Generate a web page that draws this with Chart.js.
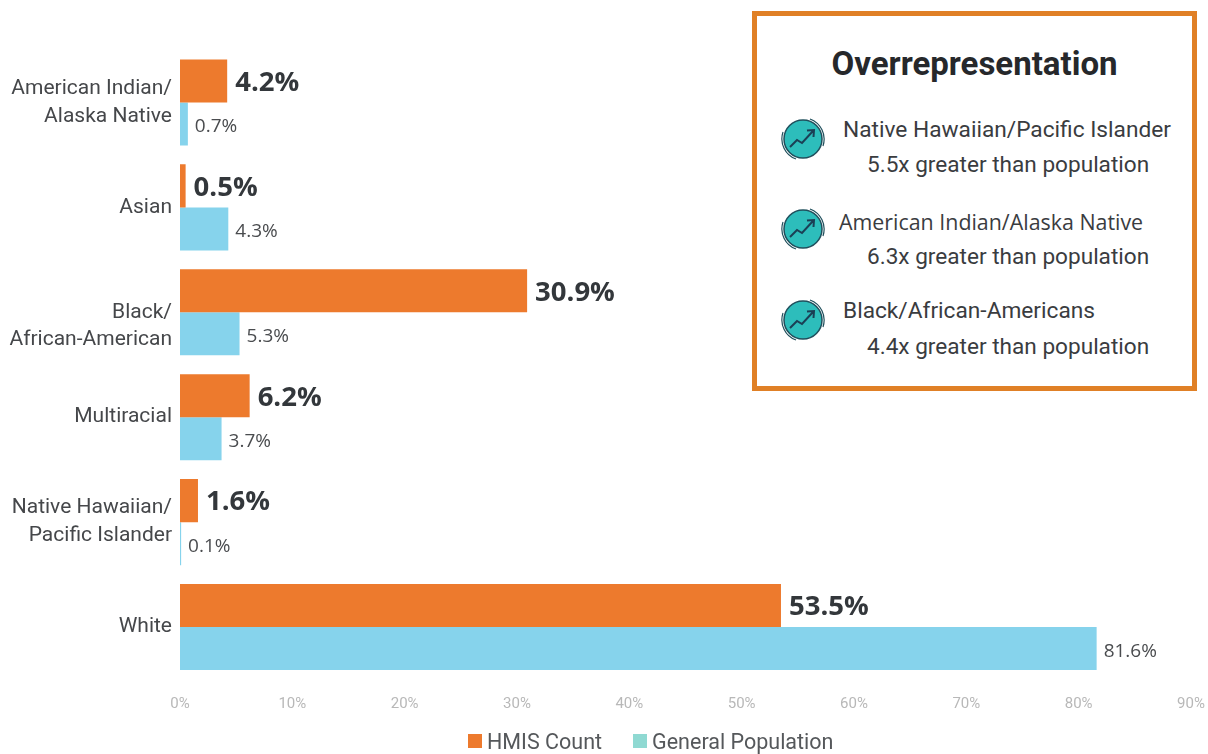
<!DOCTYPE html>
<html>
<head>
<meta charset="utf-8">
<title>Overrepresentation</title>
<script src="https://cdn.jsdelivr.net/npm/chart.js@4/dist/chart.umd.min.js"></script>
<style>
    html, body { margin: 0; padding: 0; background: #fff; }
    #wrap { position: relative; width: 1208px; height: 754px; overflow: hidden; }
    canvas { position: absolute; left: 0; top: 0; }
    #panel { position: absolute; left: 752px; top: 11px; width: 435px; height: 370px; border: 5px solid #e08026; background: #fff; }
    #panel h2 { position: absolute; left: 0; top: 28px; width: 100%; margin: 0; padding-left: 0; box-sizing: border-box; text-align: center; font: 700 33px Roboto, sans-serif; color: #26282b; }
    #panel .line { position: absolute; white-space: nowrap; font: 400 22.7px Roboto, sans-serif; color: #3a3c3f; }
    #panel .detail { font-size: 22.6px; }
    #panel .open { font: 400 21.4px "Open Sans", sans-serif; }
    #panel svg { position: absolute; left: 23px; width: 46px; height: 46px; }
    #legend { position: absolute; left: 468px; top: 727px; white-space: nowrap; font: 400 21.5px Roboto, sans-serif; color: #55585b; }
    #legend span { display: inline-block; vertical-align: middle; }
    #legend .box { width: 14px; height: 14px; margin-right: 5px; }
    #legend .name { margin-right: 31px; }
</style>
</head>
<body>
<div id="wrap">
    <canvas id="myChart" width="1208" height="754" role="img" aria-label="chart"></canvas>
    <div id="panel">
        <h2>Overrepresentation</h2>
        <svg style="top:100px" viewBox="0 0 46 46"><use href="#trend"/></svg>
        <div class="line" style="left:86px;top:100px">Native Hawaiian/Pacific Islander</div>
        <div class="line detail" style="left:110px;top:135px">5.5x greater than population</div>
        <svg style="top:190px" viewBox="0 0 46 46"><use href="#trend"/></svg>
        <div class="line open" style="left:82px;top:191px">American Indian/Alaska Native</div>
        <div class="line detail" style="left:110px;top:227px">6.3x greater than population</div>
        <svg style="top:281px" viewBox="0 0 46 46"><use href="#trend"/></svg>
        <div class="line" style="left:86px;top:281px">Black/African-Americans</div>
        <div class="line detail" style="left:110px;top:317px">4.4x greater than population</div>
    </div>
    <div id="legend"></div>
    <svg width="0" height="0" style="position:absolute">
        <symbol id="trend" viewBox="0 0 46 46">
            <circle cx="23" cy="23" r="19" fill="#2dbdbb" stroke="#1f4f5c" stroke-width="1.500"/>
            <path d="M30 3A21.500 21.500 0 0 1 43 30M16 43A21.500 21.500 0 0 1 3 16" fill="none" stroke="#1f4f5c" stroke-width="1.200"/>
            <path d="M10 31L17 24L22 27L33 15M27 14.500L34 14L33.500 21" fill="none" stroke="#1b3f55" stroke-width="2"/>
        </symbol>
    </svg>
</div>
<script>
// the empty first line pushes the Black label down, it sits low in the reference
const categories = [
    ['American Indian/', 'Alaska Native'],
    'Asian',
    ['', 'Black/', 'African-American'],
    'Multiracial',
    ['Native Hawaiian/', 'Pacific Islander'],
    'White'
];
const hmisCount = [4.2, 0.5, 30.9, 6.2, 1.6, 53.5];
const generalPopulation = [0.7, 4.3, 5.3, 3.7, 0.1, 81.6];
const seriesNames = ['HMIS Count', 'General Population'];
const hmisColor = '#ed7a2d';
const populationColor = '#86d3ec';
const legendColors = ['#ed7a2d', '#8fd9d2'];

// legend is plain html, it sits off-centre in the reference
const legend = document.getElementById('legend');
seriesNames.forEach((name, i) => {
    const box = document.createElement('span');
    box.className = 'box';
    box.style.background = legendColors[i];
    const text = document.createElement('span');
    text.className = 'name';
    text.textContent = name;
    legend.appendChild(box);
    legend.appendChild(text);
});

// value labels at the end of each bar, bigger and bold for the HMIS series
const barValueLabels = {
    id: 'barValueLabels',
    afterDatasetsDraw(chart) {
        const ctx = chart.ctx;
        ctx.save();
        ctx.textBaseline = 'middle';
        ctx.textAlign = 'left';
        chart.data.datasets.forEach((dataset, d) => {
            chart.getDatasetMeta(d).data.forEach((bar, i) => {
                if (d === 0) {
                    ctx.font = '700 27.5px "Open Sans"';
                    ctx.fillStyle = '#33373b';
                    ctx.fillText(dataset.data[i] + '%', bar.x + 8, bar.y + 2);
                } else {
                    ctx.font = '400 19px "Open Sans"';
                    ctx.fillStyle = '#4a4c4f';
                    ctx.fillText(dataset.data[i] + '%', bar.x + 7, bar.y + 3);
                }
            });
        });
        ctx.restore();
    }
};

new Chart(document.getElementById('myChart'), {
    type: 'bar',
    data: {
        labels: categories,
        datasets: [
            { label: seriesNames[0], data: hmisCount, backgroundColor: hmisColor },
            { label: seriesNames[1], data: generalPopulation, backgroundColor: populationColor }
        ]
    },
    options: {
        indexAxis: 'y',
        responsive: false,
        animation: false,
        categoryPercentage: 0.82,
        barPercentage: 1,
        layout: { padding: { top: 50, right: 17, bottom: 32.5, left: 0 } },
        plugins: {
            tooltip: { enabled: false },
            legend: { display: false }
        },
        scales: {
            x: {
                min: 0,
                max: 90,
                grid: { display: false },
                border: { display: false },
                afterFit: scale => {
                    scale.height = 42;
                    scale.paddingLeft = 0;
                    scale.paddingRight = 0;
                },
                ticks: {
                    stepSize: 10,
                    maxRotation: 0,
                    padding: 8,
                    color: '#b8b8b8',
                    font: { family: 'Roboto', size: 15 },
                    callback: value => value + '%'
                }
            },
            y: {
                grid: { display: false, drawTicks: false },
                border: { display: false },
                afterFit: scale => { scale.width = 180; },
                ticks: {
                    padding: 8,
                    color: '#45474a',
                    font: { family: 'Roboto', size: 21, lineHeight: 1.33 }
                }
            }
        }
    },
    plugins: [barValueLabels]
});
</script>
</body>
</html>
